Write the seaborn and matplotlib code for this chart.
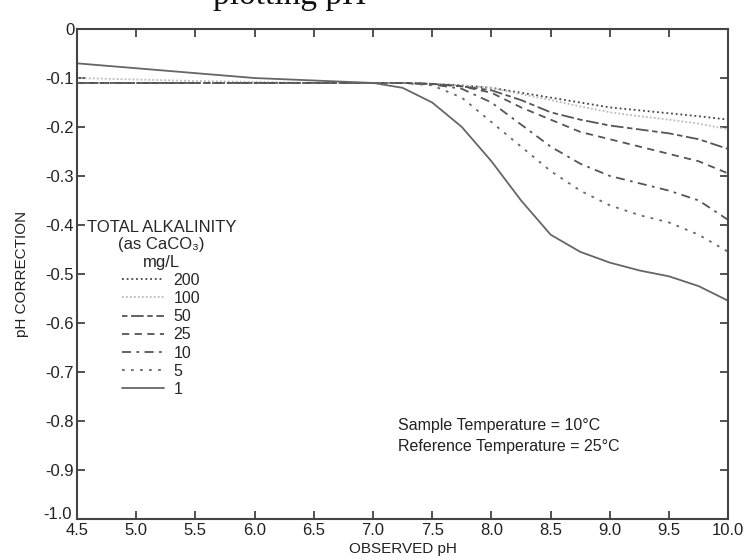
import pandas as pd
import seaborn as sns
import matplotlib.pyplot as plt
from matplotlib.transforms import ScaledTranslation

# pH values
ph = [4.5, 5.0, 5.5, 6.0, 6.5, 7.0, 7.25, 7.5, 7.75, 8.0, 8.25, 8.5,
      8.75, 9.0, 9.25, 9.5, 9.75, 10.0]

# pH correction for each total alkalinity (mg/L as CaCO3)
alk_200 = [-0.11, -0.11, -0.11, -0.11, -0.11, -0.11, -0.11, -0.112, -0.115, -0.12,
           -0.13, -0.14, -0.15, -0.16, -0.166, -0.172, -0.178, -0.185]
alk_100 = [-0.10, -0.103, -0.106, -0.108, -0.11, -0.11, -0.11, -0.112, -0.115, -0.12,
           -0.133, -0.145, -0.158, -0.17, -0.178, -0.185, -0.193, -0.205]
alk_50 = [-0.11, -0.11, -0.11, -0.11, -0.11, -0.11, -0.11, -0.112, -0.117, -0.125,
          -0.145, -0.17, -0.185, -0.197, -0.205, -0.213, -0.225, -0.245]
alk_25 = [-0.11, -0.11, -0.11, -0.11, -0.11, -0.11, -0.11, -0.112, -0.117, -0.13,
          -0.16, -0.185, -0.21, -0.225, -0.24, -0.255, -0.27, -0.295]
alk_10 = [-0.11, -0.11, -0.11, -0.11, -0.11, -0.11, -0.11, -0.113, -0.122, -0.15,
          -0.195, -0.24, -0.275, -0.30, -0.315, -0.33, -0.35, -0.39]
alk_5 = [-0.11, -0.11, -0.11, -0.11, -0.11, -0.11, -0.11, -0.115, -0.14, -0.19,
         -0.24, -0.29, -0.33, -0.36, -0.38, -0.395, -0.42, -0.455]
alk_1 = [-0.07, -0.08, -0.09, -0.10, -0.105, -0.11, -0.12, -0.15, -0.20, -0.27,
         -0.35, -0.42, -0.455, -0.477, -0.493, -0.505, -0.525, -0.555]

labels = ['200', '100', '50', '25', '10', '5', '1']
series = [alk_200, alk_100, alk_50, alk_25, alk_10, alk_5, alk_1]
styles = [(0, (1, 1.6)), (0, (1, 1.2)), (0, (3, 2, 7, 2)), (0, (4, 3)),
          (0, (5, 3, 1.5, 3)), (0, (1.5, 3.5)), '-']
colors = ['#444444', '#bbbbbb', '#555555', '#555555', '#555555', '#666666', '#666666']

sns.set_style('ticks')
plt.rcParams['font.family'] = ['Liberation Sans', 'DejaVu Sans']

fig = plt.figure(figsize=(7.47, 5.59), dpi=100)
ax = fig.add_axes([0.103, 0.072, 0.872, 0.876])

for lab, vals, ls, c in zip(labels, series, styles, colors):
    df = pd.DataFrame({'ph': ph, 'corr': vals})
    sns.lineplot(data=df, x='ph', y='corr', ax=ax, color=c, linestyle=ls,
                 linewidth=1.3, label=lab)

ax.set_xlim(4.5, 10.0)
ax.set_ylim(-1.0, 0)
xt = [4.5 + 0.5 * i for i in range(12)]
ax.set_xticks(xt)
ax.set_xticklabels([f'{v:.1f}' for v in xt])
yt = [-0.1 * i for i in range(11)]
ax.set_yticks(yt)
ax.set_yticklabels(['0'] + [f'{v:.1f}' for v in yt[1:]])
ax.tick_params(direction='in', length=6, width=1.2, labelsize=12, pad=2,
               top=True, right=True, labelcolor='#222222', color='#333333')
ax.tick_params(axis='x', pad=3)
for s in ax.spines.values():
    s.set_linewidth(1.5)
    s.set_color('#444444')

# lift the -1.0 label a little so it clears the 4.5 below it
lowest = ax.get_yticklabels()[-1]
lowest.set_transform(lowest.get_transform() + ScaledTranslation(-2 / 72, 4 / 72, fig.dpi_scale_trans))

ax.set_xlabel('OBSERVED pH', fontsize=11, color='#222222', labelpad=3)
ax.set_ylabel('pH CORRECTION', fontsize=11, color='#222222', labelpad=10)

leg = ax.legend(title='TOTAL ALKALINITY\n(as CaCO₃)\nmg/L', loc='upper left',
                bbox_to_anchor=(0.0, 0.63), frameon=False, fontsize=11.5,
                handlelength=2.6, labelspacing=0.2, handletextpad=0.6,
                borderaxespad=0.2)
leg.get_title().set_fontsize(12)
leg.get_title().set_multialignment('center')
leg._legend_box.align = 'center'

ax.text(0.493, 0.205, 'Sample Temperature = 10°C\nReference Temperature = 25°C',
        transform=ax.transAxes, fontsize=11.5, color='#222222', va='top',
        linespacing=1.5)

# clipped caption line above the chart
fig.text(0.285, 0.992, 'plotting pH', family='Liberation Serif', fontsize=24,
         va='baseline', ha='left', color='#111111')

plt.savefig('out.png', dpi=100)
plt.close()
